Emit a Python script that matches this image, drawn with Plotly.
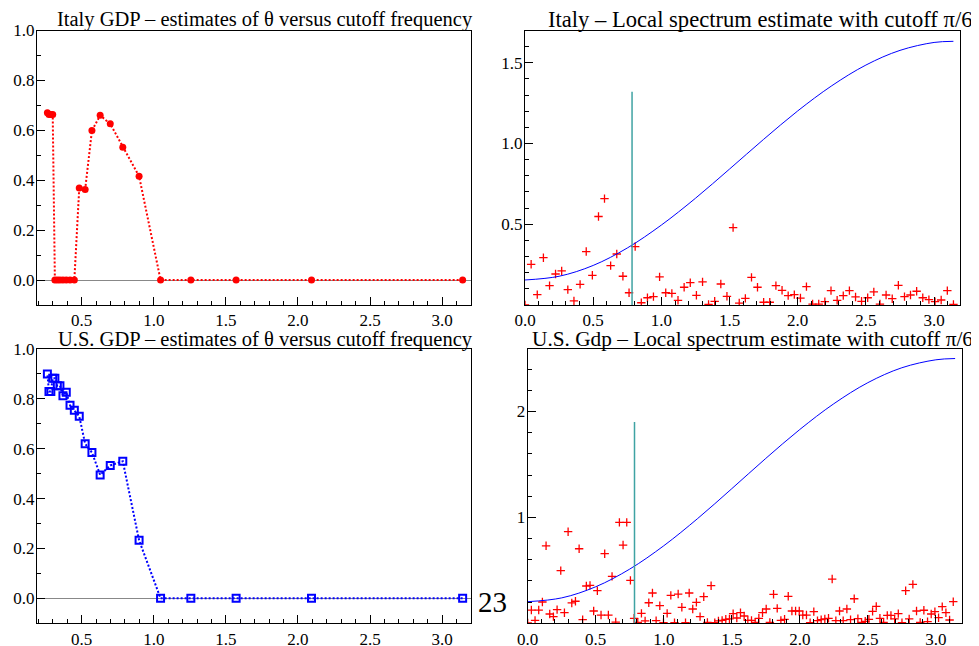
import plotly.graph_objects as go

# ---------------- data ----------------
# cutoff frequencies 2*pi/k, k = 2..24
cutoffs = [3.142, 2.094, 1.571, 1.257, 1.047, 0.898, 0.785, 0.698, 0.628, 0.571,
           0.524, 0.483, 0.449, 0.419, 0.393, 0.370, 0.349, 0.331, 0.314, 0.299,
           0.286, 0.273, 0.262]
italy_theta = [0.0, 0.0, 0.0, 0.0, 0.0, 0.416, 0.532, 0.626, 0.660, 0.599,
               0.363, 0.369, 0.0, 0.0, 0.0, 0.0, 0.0, 0.0, 0.0, 0.663,
               0.663, 0.663, 0.670]
us_theta = [0.0, 0.0, 0.0, 0.0, 0.0, 0.233, 0.550, 0.533, 0.495, 0.585,
            0.620, 0.730, 0.754, 0.774, 0.827, 0.813, 0.853, 0.853, 0.883, 0.883,
            0.830, 0.830, 0.900]

# Italy periodogram at Fourier frequencies
italy_freq = [0.000, 0.045, 0.090, 0.135, 0.180, 0.224, 0.269, 0.314, 0.359, 0.404,
              0.449, 0.494, 0.539, 0.583, 0.628, 0.673, 0.718, 0.763, 0.808, 0.853,
              0.898, 0.942, 0.987, 1.032, 1.077, 1.122, 1.167, 1.212, 1.257, 1.302,
              1.346, 1.391, 1.436, 1.481, 1.526, 1.571, 1.616, 1.661, 1.705, 1.750,
              1.795, 1.840, 1.885, 1.930, 1.975, 2.020, 2.064, 2.109, 2.154, 2.199,
              2.244, 2.289, 2.334, 2.379, 2.424, 2.468, 2.513, 2.558, 2.603, 2.648,
              2.693, 2.738, 2.783, 2.827, 2.872, 2.917, 2.962, 3.007, 3.052, 3.097,
              3.142]
italy_pgram = [0.000, 0.252, 0.064, 0.293, 0.120, 0.192, 0.211, 0.095, 0.025, 0.128,
               0.331, 0.184, 0.548, 0.659, 0.244, 0.316, 0.178, 0.076, 0.362, 0.014,
               0.045, 0.052, 0.174, 0.076, 0.072, 0.029, 0.110, 0.138, 0.060, 0.143,
               0.004, 0.023, 0.130, 0.054, 0.479, 0.012, 0.041, 0.171, 0.110, 0.017,
               0.017, 0.120, 0.091, 0.058, 0.064, 0.043, 0.114, 0.006, 0.006, 0.021,
               0.089, 0.029, 0.058, 0.089, 0.050, 0.023, 0.045, 0.081, 0.006, 0.062,
               0.039, 0.122, 0.052, 0.062, 0.085, 0.045, 0.033, 0.021, 0.031, 0.089,
               0.004]

# U.S. periodogram at Fourier frequencies
us_freq = [0.000, 0.027, 0.054, 0.081, 0.108, 0.135, 0.162, 0.189, 0.216, 0.243,
           0.270, 0.297, 0.324, 0.351, 0.378, 0.404, 0.431, 0.458, 0.485, 0.512,
           0.539, 0.566, 0.593, 0.620, 0.647, 0.674, 0.701, 0.728, 0.755, 0.782,
           0.809, 0.836, 0.863, 0.890, 0.917, 0.944, 0.971, 0.998, 1.025, 1.052,
           1.079, 1.106, 1.133, 1.160, 1.187, 1.213, 1.240, 1.267, 1.294, 1.321,
           1.348, 1.375, 1.402, 1.429, 1.456, 1.483, 1.510, 1.537, 1.564, 1.591,
           1.618, 1.645, 1.672, 1.699, 1.726, 1.753, 1.780, 1.807, 1.834, 1.861,
           1.888, 1.915, 1.942, 1.969, 1.996, 2.022, 2.049, 2.076, 2.103, 2.130,
           2.157, 2.184, 2.211, 2.238, 2.265, 2.292, 2.319, 2.346, 2.373, 2.400,
           2.427, 2.454, 2.481, 2.508, 2.535, 2.562, 2.589, 2.616, 2.643, 2.670,
           2.697, 2.724, 2.751, 2.778, 2.804, 2.831, 2.858, 2.885, 2.912, 2.939,
           2.966, 2.993, 3.020, 3.047, 3.074, 3.101, 3.128]
us_pgram = [0.003, 0.125, 0.028, 0.125, 0.201, 0.732, 0.088, 0.063, 0.129, 0.497,
            0.100, 0.865, 0.192, 0.208, 0.704, 0.034, 0.352, 0.358, 0.116, 0.308,
            0.078, 0.657, 0.078, 0.443, 0.012, 0.953, 0.739, 0.953, 0.405, 0.047,
            0.009, 0.094, 0.022, 0.194, 0.286, 0.025, 0.166, 0.006, 0.094, 0.264,
            0.006, 0.276, 0.151, 0.006, 0.286, 0.135, 0.198, 0.063, 0.251, 0.009,
            0.355, 0.006, 0.022, 0.028, 0.038, 0.041, 0.091, 0.050, 0.100, 0.069,
            0.028, 0.028, 0.009, 0.047, 0.100, 0.135, 0.009, 0.274, 0.141, 0.028,
            0.038, 0.255, 0.116, 0.116, 0.116, 0.078, 0.078, 0.006, 0.110, 0.025,
            0.034, 0.041, 0.047, 0.418, 0.025, 0.116, 0.025, 0.135, 0.034, 0.232,
            0.044, 0.009, 0.019, 0.038, 0.113, 0.160, 0.047, 0.009, 0.075, 0.075,
            0.041, 0.091, 0.006, 0.308, 0.041, 0.368, 0.116, 0.009, 0.123, 0.015,
            0.088, 0.110, 0.053, 0.157, 0.100, 0.031, 0.204]

# fitted local spectrum curves (read at a few frequencies)
curve_freq = [0.0, 0.25, 0.5, 0.75, 1.0, 1.25, 1.5, 1.75, 2.0, 2.25, 2.5, 2.75, 3.0, 3.1416]
italy_curve = [0.155, 0.178, 0.245, 0.353, 0.495, 0.661, 0.842, 1.026, 1.202, 1.358,
               1.486, 1.577, 1.626, 1.633]
us_curve = [0.204, 0.240, 0.345, 0.512, 0.732, 0.990, 1.271, 1.557, 1.830, 2.073,
            2.272, 2.413, 2.488, 2.500]

# cutoff marker lines
cut_x = [0.785, 0.785]
italy_cut_y = [0.0, 1.32]
us_cut_y = [0.0, 1.90]

titles = ["Italy GDP \u2013 estimates of \u03b8 versus cutoff frequency",
          "Italy \u2013 Local spectrum estimate with cutoff \u03c0/6",
          "U.S. GDP \u2013 estimates of \u03b8 versus cutoff frequency",
          "U.S. Gdp \u2013 Local spectrum estimate with cutoff \u03c0/6"]

# ---------------- figure ----------------
# the page body adds an 8px margin, so the figure is 8px smaller than the window
OFF = 8
W, H = 979 - OFF, 646 - OFF
SERIF = "Liberation Serif, Times New Roman, serif"

def px_x(a):
    return (a - OFF) / W

def px_y(a):
    return 1 - (a - OFF) / H

fig = go.Figure()

# top-left: Italy theta
fig.add_trace(go.Scatter(x=cutoffs, y=italy_theta, mode="lines+markers",
                         line=dict(color="#ff0000", width=2, dash="2px,2px"),
                         marker=dict(color="#ff0000", size=7, symbol="circle"),
                         xaxis="x", yaxis="y", showlegend=False))
# top-right: Italy spectrum
fig.add_trace(go.Scatter(x=italy_freq, y=italy_pgram, mode="markers",
                         marker=dict(symbol="cross-thin", size=6,
                                     line=dict(color="#ff0000", width=1.3)),
                         xaxis="x2", yaxis="y2", showlegend=False))
fig.add_trace(go.Scatter(x=curve_freq, y=italy_curve, mode="lines",
                         line=dict(color="#0000ff", width=1, shape="spline"),
                         xaxis="x2", yaxis="y2", showlegend=False))
fig.add_trace(go.Scatter(x=cut_x, y=italy_cut_y, mode="lines",
                         line=dict(color="#3fa3a3", width=1.5),
                         xaxis="x2", yaxis="y2", showlegend=False))
# bottom-left: US theta
fig.add_trace(go.Scatter(x=cutoffs, y=us_theta, mode="lines+markers",
                         line=dict(color="#0000ff", width=2, dash="2px,2px"),
                         marker=dict(color="#0000ff", size=7, symbol="square-open",
                                     line=dict(color="#0000ff", width=2)),
                         xaxis="x3", yaxis="y3", showlegend=False))
# bottom-right: US spectrum
fig.add_trace(go.Scatter(x=us_freq, y=us_pgram, mode="markers",
                         marker=dict(symbol="cross-thin", size=6,
                                     line=dict(color="#ff0000", width=1.3)),
                         xaxis="x4", yaxis="y4", showlegend=False))
fig.add_trace(go.Scatter(x=curve_freq, y=us_curve, mode="lines",
                         line=dict(color="#0000ff", width=1, shape="spline"),
                         xaxis="x4", yaxis="y4", showlegend=False))
fig.add_trace(go.Scatter(x=cut_x, y=us_cut_y, mode="lines",
                         line=dict(color="#3fa3a3", width=1.5),
                         xaxis="x4", yaxis="y4", showlegend=False))

tickfont = dict(family=SERIF, size=17, color="black")

def xax(domain, rng, anchor, tickvals):
    return dict(domain=domain, range=rng, anchor=anchor, showline=True, mirror=True,
                linecolor="black", linewidth=1, ticks="inside", ticklen=8,
                tickcolor="black", tickwidth=1, tickvals=tickvals, tickformat=".1f",
                minor=dict(dtick=0.1, ticks="inside", ticklen=4, tickcolor="black"),
                showgrid=False, zeroline=False, tickfont=tickfont,
                ticklabelstandoff=0, automargin=False)

def yax(domain, rng, anchor, tickvals, fmt, minor_dt, zeroline):
    return dict(domain=domain, range=rng, anchor=anchor, showline=True, mirror=True,
                linecolor="black", linewidth=1, ticks="inside", ticklen=8,
                tickcolor="black", tickwidth=1, tickvals=tickvals, tickformat=fmt,
                minor=dict(dtick=minor_dt, tick0=0, ticks="inside", ticklen=4,
                           tickcolor="black"),
                showgrid=False, zeroline=zeroline, zerolinecolor="#888888",
                zerolinewidth=1, tickfont=tickfont, ticklabelstandoff=-2,
                automargin=False)

left_x = [px_x(37), px_x(471)]
tr_x = [px_x(525), px_x(960)]
br_x = [px_x(527.7), px_x(961.7)]
top_y = [px_y(305), px_y(30.5)]
bot_y = [px_y(623.3), px_y(349)]

xt_left = [0.5, 1.0, 1.5, 2.0, 2.5, 3.0]
xt_right = [0.0, 0.5, 1.0, 1.5, 2.0, 2.5, 3.0]
yt_theta = [0.0, 0.2, 0.4, 0.6, 0.8, 1.0]

fig.update_layout(
    width=W, height=H, autosize=False,
    margin=dict(l=0, r=0, t=0, b=0, pad=0),
    paper_bgcolor="white", plot_bgcolor="white",
    xaxis=xax(left_x, [0.19, 3.2], "y", xt_left),
    yaxis=yax(top_y, [-0.1, 1.0], "x", yt_theta, ".1f", 0.1, True),
    xaxis2=xax(tr_x, [0.0, 3.19], "y2", xt_right),
    yaxis2=yax(top_y, [0.0, 1.7], "x2", [0.5, 1.0, 1.5], ".1f", 0.1, False),
    xaxis3=xax(left_x, [0.19, 3.2], "y3", xt_left),
    yaxis3=yax(bot_y, [-0.1, 1.0], "x3", yt_theta, ".1f", 0.1, True),
    xaxis4=xax(br_x, [0.0, 3.19], "y4", xt_right),
    yaxis4=yax(bot_y, [0.0, 2.59], "x4", [1, 2], "d", 0.2, False),
)

# (anchor x, center y, font size, x anchor) in window pixels
title_pos = [(265.3, 19.5, 20.5, "center"), (974.0, 19.5, 22.6, "right"),
             (265.5, 339.0, 20.5, "center"), (975.0, 339.0, 21.3, "right")]
for t, (ax, cy, fs, anc) in zip(titles, title_pos):
    fig.add_annotation(text=t, xref="paper", yref="paper", x=px_x(ax), y=px_y(cy),
                       xanchor=anc, yanchor="middle", showarrow=False,
                       font=dict(family=SERIF, size=fs, color="black"))

fig.add_annotation(text="23", xref="paper", yref="paper", x=px_x(492), y=px_y(602),
                   xanchor="center", yanchor="middle", showarrow=False,
                   font=dict(family=SERIF, size=29, color="black"))

fig.write_html("out.html")
